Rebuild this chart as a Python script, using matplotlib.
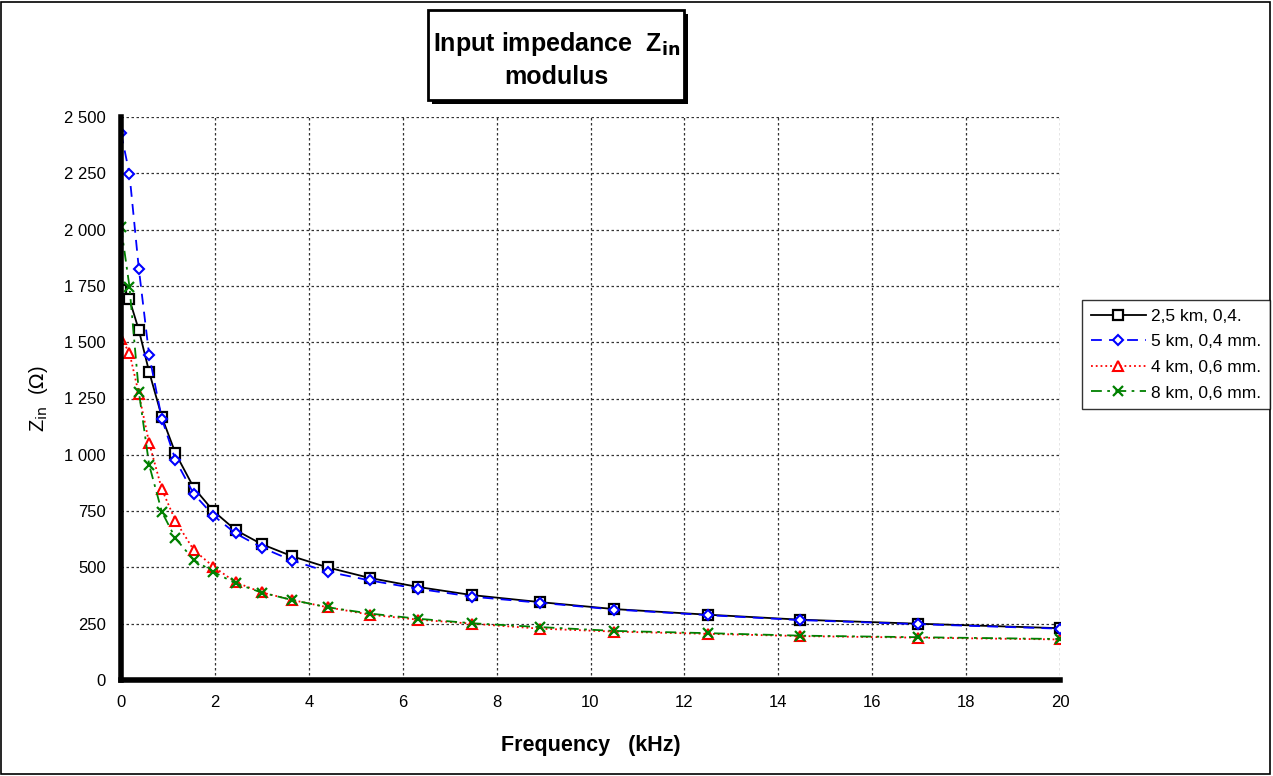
"""
Input impedance modulus vs frequency for four line configurations.
Out: out.png
"""
import matplotlib
matplotlib.use("Agg")
import matplotlib.pyplot as plt
from matplotlib.patches import Rectangle
from matplotlib.ticker import FuncFormatter, MultipleLocator

plt.rcParams["font.family"] = ["Liberation Sans", "DejaVu Sans"]

# frequency points (kHz)
freq = [0.0, 0.18, 0.38, 0.6, 0.87, 1.16, 1.55, 1.97, 2.44, 3.0, 3.65,
        4.4, 5.3, 6.33, 7.48, 8.92, 10.5, 12.5, 14.46, 16.97, 20.0]

# |Zin| in ohms
z_25km_04 = [1732, 1690, 1554, 1368, 1168, 1007, 854, 750, 666, 603, 549,
             500, 453, 413, 377, 346, 315, 290, 268, 250, 230]
z_5km_04 = [2430, 2247, 1826, 1442, 1160, 977, 826, 730, 651, 588, 530,
            481, 442, 405, 370, 343, 313, 288, 266, 248, 228]
z_4km_06 = [1516, 1453, 1270, 1052, 847, 707, 577, 503, 434, 389, 355,
            323, 290, 268, 250, 228, 215, 205, 195, 188, 180]
z_8km_06 = [2013, 1747, 1280, 955, 747, 629, 533, 480, 429, 388, 355,
            323, 295, 272, 252, 235, 218, 208, 197, 190, 182]

labels = ["2,5 km, 0,4.", "5 km, 0,4 mm.", "4 km, 0,6 mm.", "8 km, 0,6 mm."]


def main():
    fig = plt.figure(figsize=(12.73, 7.76), dpi=100)
    ax = fig.add_axes([121 / 1273, 1 - 680 / 776, (1060 - 121) / 1273, (680 - 117) / 776])

    ax.plot(freq, z_25km_04, ls="-", color="black", lw=1.3, marker="s", ms=7,
            mfc="white", mec="black", mew=1.6, label=labels[0], zorder=3)
    ax.plot(freq, z_5km_04, ls=(0, (6, 4)), color="#0000ff", lw=1.3, marker="D", ms=5,
            mfc="white", mec="#0000ff", mew=1.5, label=labels[1], zorder=4)
    ax.plot(freq, z_4km_06, ls=":", color="#ff0000", lw=1.3, marker="^", ms=6.5,
            mfc="white", mec="#ff0000", mew=1.5, label=labels[2], zorder=3)
    ax.plot(freq, z_8km_06, ls=(0, (6, 3, 1.5, 3)), color="#008000", lw=1.3, marker="x", ms=7,
            mec="#008000", mew=1.6, label=labels[3], zorder=3)

    ax.set_xlim(0, 20)
    ax.set_ylim(0, 2500)
    ax.xaxis.set_major_locator(MultipleLocator(2))
    ax.yaxis.set_major_locator(MultipleLocator(250))
    ax.yaxis.set_major_formatter(FuncFormatter(lambda v, _: f"{int(v):,}".replace(",", " ")))
    ax.tick_params(length=0, labelsize=12, pad=11)
    ax.grid(True, ls=(0, (2, 2)), color="#333333", lw=0.9)

    for s in ("top", "right"):
        ax.spines[s].set_visible(False)
    for s in ("left", "bottom"):
        ax.spines[s].set_linewidth(4)
        ax.spines[s].set_zorder(5)

    ax.set_xlabel("Frequency   (kHz)", fontsize=15.5, fontweight="bold", labelpad=18)
    ax.set_ylabel(r"Z$_{\rm in}$  ($\Omega$)", fontsize=14.5, labelpad=10)

    # title box with drop shadow
    fig.patches.append(Rectangle((432 / 1273, 1 - 104 / 776), 256 / 1273, 90 / 776,
                                 transform=fig.transFigure, fc="black", ec="none"))
    fig.patches.append(Rectangle((428 / 1273, 1 - 100 / 776), 256 / 1273, 90 / 776,
                                 transform=fig.transFigure, fc="white", ec="black", lw=2))
    fig.text(557 / 1273, 1 - 44 / 776, r"Input impedance  Z$_{\mathbf{in}}$",
             ha="center", va="center", fontsize=18, fontweight="bold")
    fig.text(556 / 1273, 1 - 77 / 776, "modulus", ha="center", va="center",
             fontsize=18, fontweight="bold")

    leg = fig.legend(loc="upper left", bbox_to_anchor=(1082 / 1273, 1 - 300 / 776),
                     fontsize=12.5, frameon=True, fancybox=False, edgecolor="black",
                     borderaxespad=0, handlelength=3.2, labelspacing=0.6,
                     handletextpad=0.3, borderpad=0.5)
    leg.get_frame().set_linewidth(1.0)

    # outer frame
    fig.patches.append(Rectangle((0.001, 0.002), 0.997, 0.995, transform=fig.transFigure,
                                 fc="none", ec="black", lw=1.2))

    fig.savefig("out.png", dpi=100)
    plt.close(fig)


if __name__ == "__main__":
    main()
